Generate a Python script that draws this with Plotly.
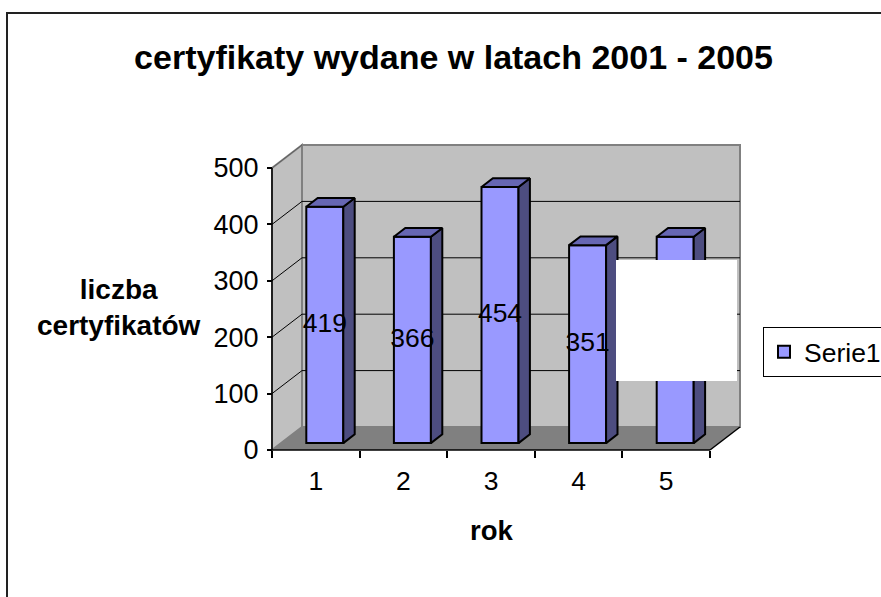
import plotly.graph_objects as go

# ---------------- data ----------------
categories = [1, 2, 3, 4, 5]
tick_text = ["1", "2", "3", "4", "5"]
values = [419, 366, 454, 351, 366]
y_ticks = [0, 100, 200, 300, 400, 500]
series_name = "Serie1"
title_text = "certyfikaty wydane w latach 2001 - 2005"
x_title = "rok"
y_title = "liczba<br>certyfikatów"

# ---------------- layout geometry ----------------
W, H = 881, 597
AX_X_PX, AX_Y_PX = 272, 450          # pixel of front-left-bottom corner
CAT_PX = 87.6                        # pixels per category
UNIT_PX = 0.564                      # pixels per value unit
x_range = [0.5 - AX_X_PX / CAT_PX, 0.5 + (W - AX_X_PX) / CAT_PX]
y_range = [(AX_Y_PX - H) / UNIT_PX, AX_Y_PX / UNIT_PX]

DX = 30 / CAT_PX                     # depth offset (x, data units)
DY = 23 / UNIT_PX                    # depth offset (y, data units)
F1, F2 = 0.30, 0.68                  # bar depth span (fraction of depth)
BAR_W = 37 / CAT_PX

xmin, xmax = categories[0] - 0.5, categories[-1] + 0.5
ymax = y_ticks[-1]

FONT = "Liberation Sans, Arial, sans-serif"
WALL = "#c0c0c0"
FLOOR = "#808080"
FRONT = "#9999ff"
SIDE = "#4d4d80"
TOP = "#6666b3"

fig = go.Figure()

shapes = []
# back wall
shapes.append(dict(type="path", xref="x", yref="y", layer="below",
                   path=f"M {xmin+DX},{DY} L {xmax+DX},{DY} L {xmax+DX},{ymax+DY} L {xmin+DX},{ymax+DY} Z",
                   fillcolor=WALL, line=dict(color="#808080", width=2)))
# left wall
shapes.append(dict(type="path", xref="x", yref="y", layer="below",
                   path=f"M {xmin},0 L {xmin+DX},{DY} L {xmin+DX},{ymax+DY} L {xmin},{ymax} Z",
                   fillcolor=WALL, line=dict(color="#808080", width=2)))
# floor
shapes.append(dict(type="path", xref="x", yref="y", layer="below",
                   path=f"M {xmin},0 L {xmax},0 L {xmax+DX},{DY} L {xmin+DX},{DY} Z",
                   fillcolor=FLOOR, line=dict(width=0)))
# gridlines on back wall and diagonals on left wall
for v in y_ticks:
    if 0 < v < ymax:
        shapes.append(dict(type="line", xref="x", yref="y", layer="below",
                           x0=xmin+DX, x1=xmax+DX, y0=v+DY, y1=v+DY,
                           line=dict(color="black", width=1)))
    if v > 0:
        shapes.append(dict(type="line", xref="x", yref="y", layer="below",
                           x0=xmin, x1=xmin+DX, y0=v, y1=v+DY,
                           line=dict(color="black" if v < ymax else "#606060", width=1)))
# front axis lines
shapes.append(dict(type="line", xref="x", yref="y", layer="below",
                   x0=xmin, x1=xmin, y0=0, y1=ymax, line=dict(color="black", width=1.5)))
shapes.append(dict(type="line", xref="x", yref="y", layer="below",
                   x0=xmin, x1=xmax, y0=0, y1=0, line=dict(color="black", width=1.5)))
shapes.append(dict(type="line", xref="x", yref="y", layer="below",
                   x0=xmax, x1=xmax+DX, y0=0, y1=DY, line=dict(color="black", width=1.5)))

# ---------------- bars ----------------
base = F1 * DY
xc = [c + F1 * DX for c in categories]
fig.add_trace(go.Bar(
    x=xc, y=values, base=base, width=BAR_W, name=series_name,
    marker=dict(color=FRONT, line=dict(color="black", width=2)),
    showlegend=True, hoverinfo="skip"))

ddx = (F2 - F1) * DX
ddy = (F2 - F1) * DY
side_x, side_y, top_x, top_y = [], [], [], []
for x, v in zip(xc, values):
    xl, xr = x - BAR_W / 2, x + BAR_W / 2
    t = v + base
    side_x += [xr, xr + ddx, xr + ddx, xr, xr, None]
    side_y += [base, base + ddy, t + ddy, t, base, None]
    top_x += [xl, xr, xr + ddx, xl + ddx, xl, None]
    top_y += [t, t, t + ddy, t + ddy, t, None]
fig.add_trace(go.Scatter(x=side_x, y=side_y, mode="lines", fill="toself",
                         fillcolor=SIDE, line=dict(color="black", width=2),
                         showlegend=False, hoverinfo="skip"))
fig.add_trace(go.Scatter(x=top_x, y=top_y, mode="lines", fill="toself",
                         fillcolor=TOP, line=dict(color="black", width=2),
                         showlegend=False, hoverinfo="skip"))
# value labels
fig.add_trace(go.Scatter(x=xc, y=[base + v / 2 for v in values], mode="text",
                         text=[str(v) for v in values],
                         textfont=dict(family=FONT, size=26.5, color="black"),
                         showlegend=False, hoverinfo="skip"))

# white patch covering part of the chart
shapes.append(dict(type="rect", xref="paper", yref="paper", layer="above",
                   x0=616 / W, x1=737 / W, y0=1 - 381 / H, y1=1 - 260 / H,
                   fillcolor="white", line=dict(width=0)))
# outer chart frame
shapes.append(dict(type="rect", xref="paper", yref="paper", layer="above",
                   x0=7 / W, x1=1.05, y0=-0.05, y1=1 - 13 / H,
                   fillcolor="rgba(0,0,0,0)", line=dict(color="#222222", width=2)))

minor_vals = [c - 0.5 for c in categories] + [categories[-1] + 0.5]

fig.update_layout(
    width=W, height=H, margin=dict(l=0, r=0, t=0, b=0, autoexpand=False),
    paper_bgcolor="white", plot_bgcolor="white",
    font=dict(family=FONT, color="black"),
    shapes=shapes,
    title=dict(text=f"<b>{title_text}</b>", x=453.5 / W, xanchor="center",
               y=1 - 57 / H, yanchor="middle", yref="paper",
               font=dict(family=FONT, size=34, color="black")),
    xaxis=dict(range=x_range, domain=[0, 1], anchor="free", position=1 - AX_Y_PX / H,
               tickmode="array", tickvals=categories, ticktext=tick_text,
               ticks="", ticklabelstandoff=12, showgrid=False, zeroline=False, showline=False,
               tickfont=dict(family=FONT, size=26.5, color="black"),
               minor=dict(tickmode="array", tickvals=minor_vals, ticks="outside",
                          ticklen=7, tickwidth=1.5, tickcolor="black", showgrid=False)),
    yaxis=dict(range=y_range, domain=[0, 1], anchor="free", position=AX_X_PX / W,
               tickmode="array", tickvals=y_ticks, ticks="outside", ticklen=5,
               tickwidth=1.5, tickcolor="black", ticklabelstandoff=3,
               showgrid=False, zeroline=False, showline=False,
               tickfont=dict(family=FONT, size=27, color="black")),
    legend=dict(x=763 / W, y=1 - 327 / H, xanchor="left", yanchor="top",
                bgcolor="white", bordercolor="black", borderwidth=1,
                font=dict(family=FONT, size=26.5, color="black")),
    annotations=[
        dict(text=f"<b>{y_title}</b>", x=119 / W, y=1 - 307 / H, xref="paper", yref="paper",
             showarrow=False, xanchor="center", yanchor="middle",
             font=dict(family=FONT, size=28, color="black")),
        dict(text=f"<b>{x_title}</b>", x=492 / W, y=1 - 530 / H, xref="paper", yref="paper",
             showarrow=False, xanchor="center", yanchor="middle",
             font=dict(family=FONT, size=27.5, color="black")),
    ],
)

fig.write_html("out.html", config={"displayModeBar": False},
               post_script="document.body.style.margin='0px';")
